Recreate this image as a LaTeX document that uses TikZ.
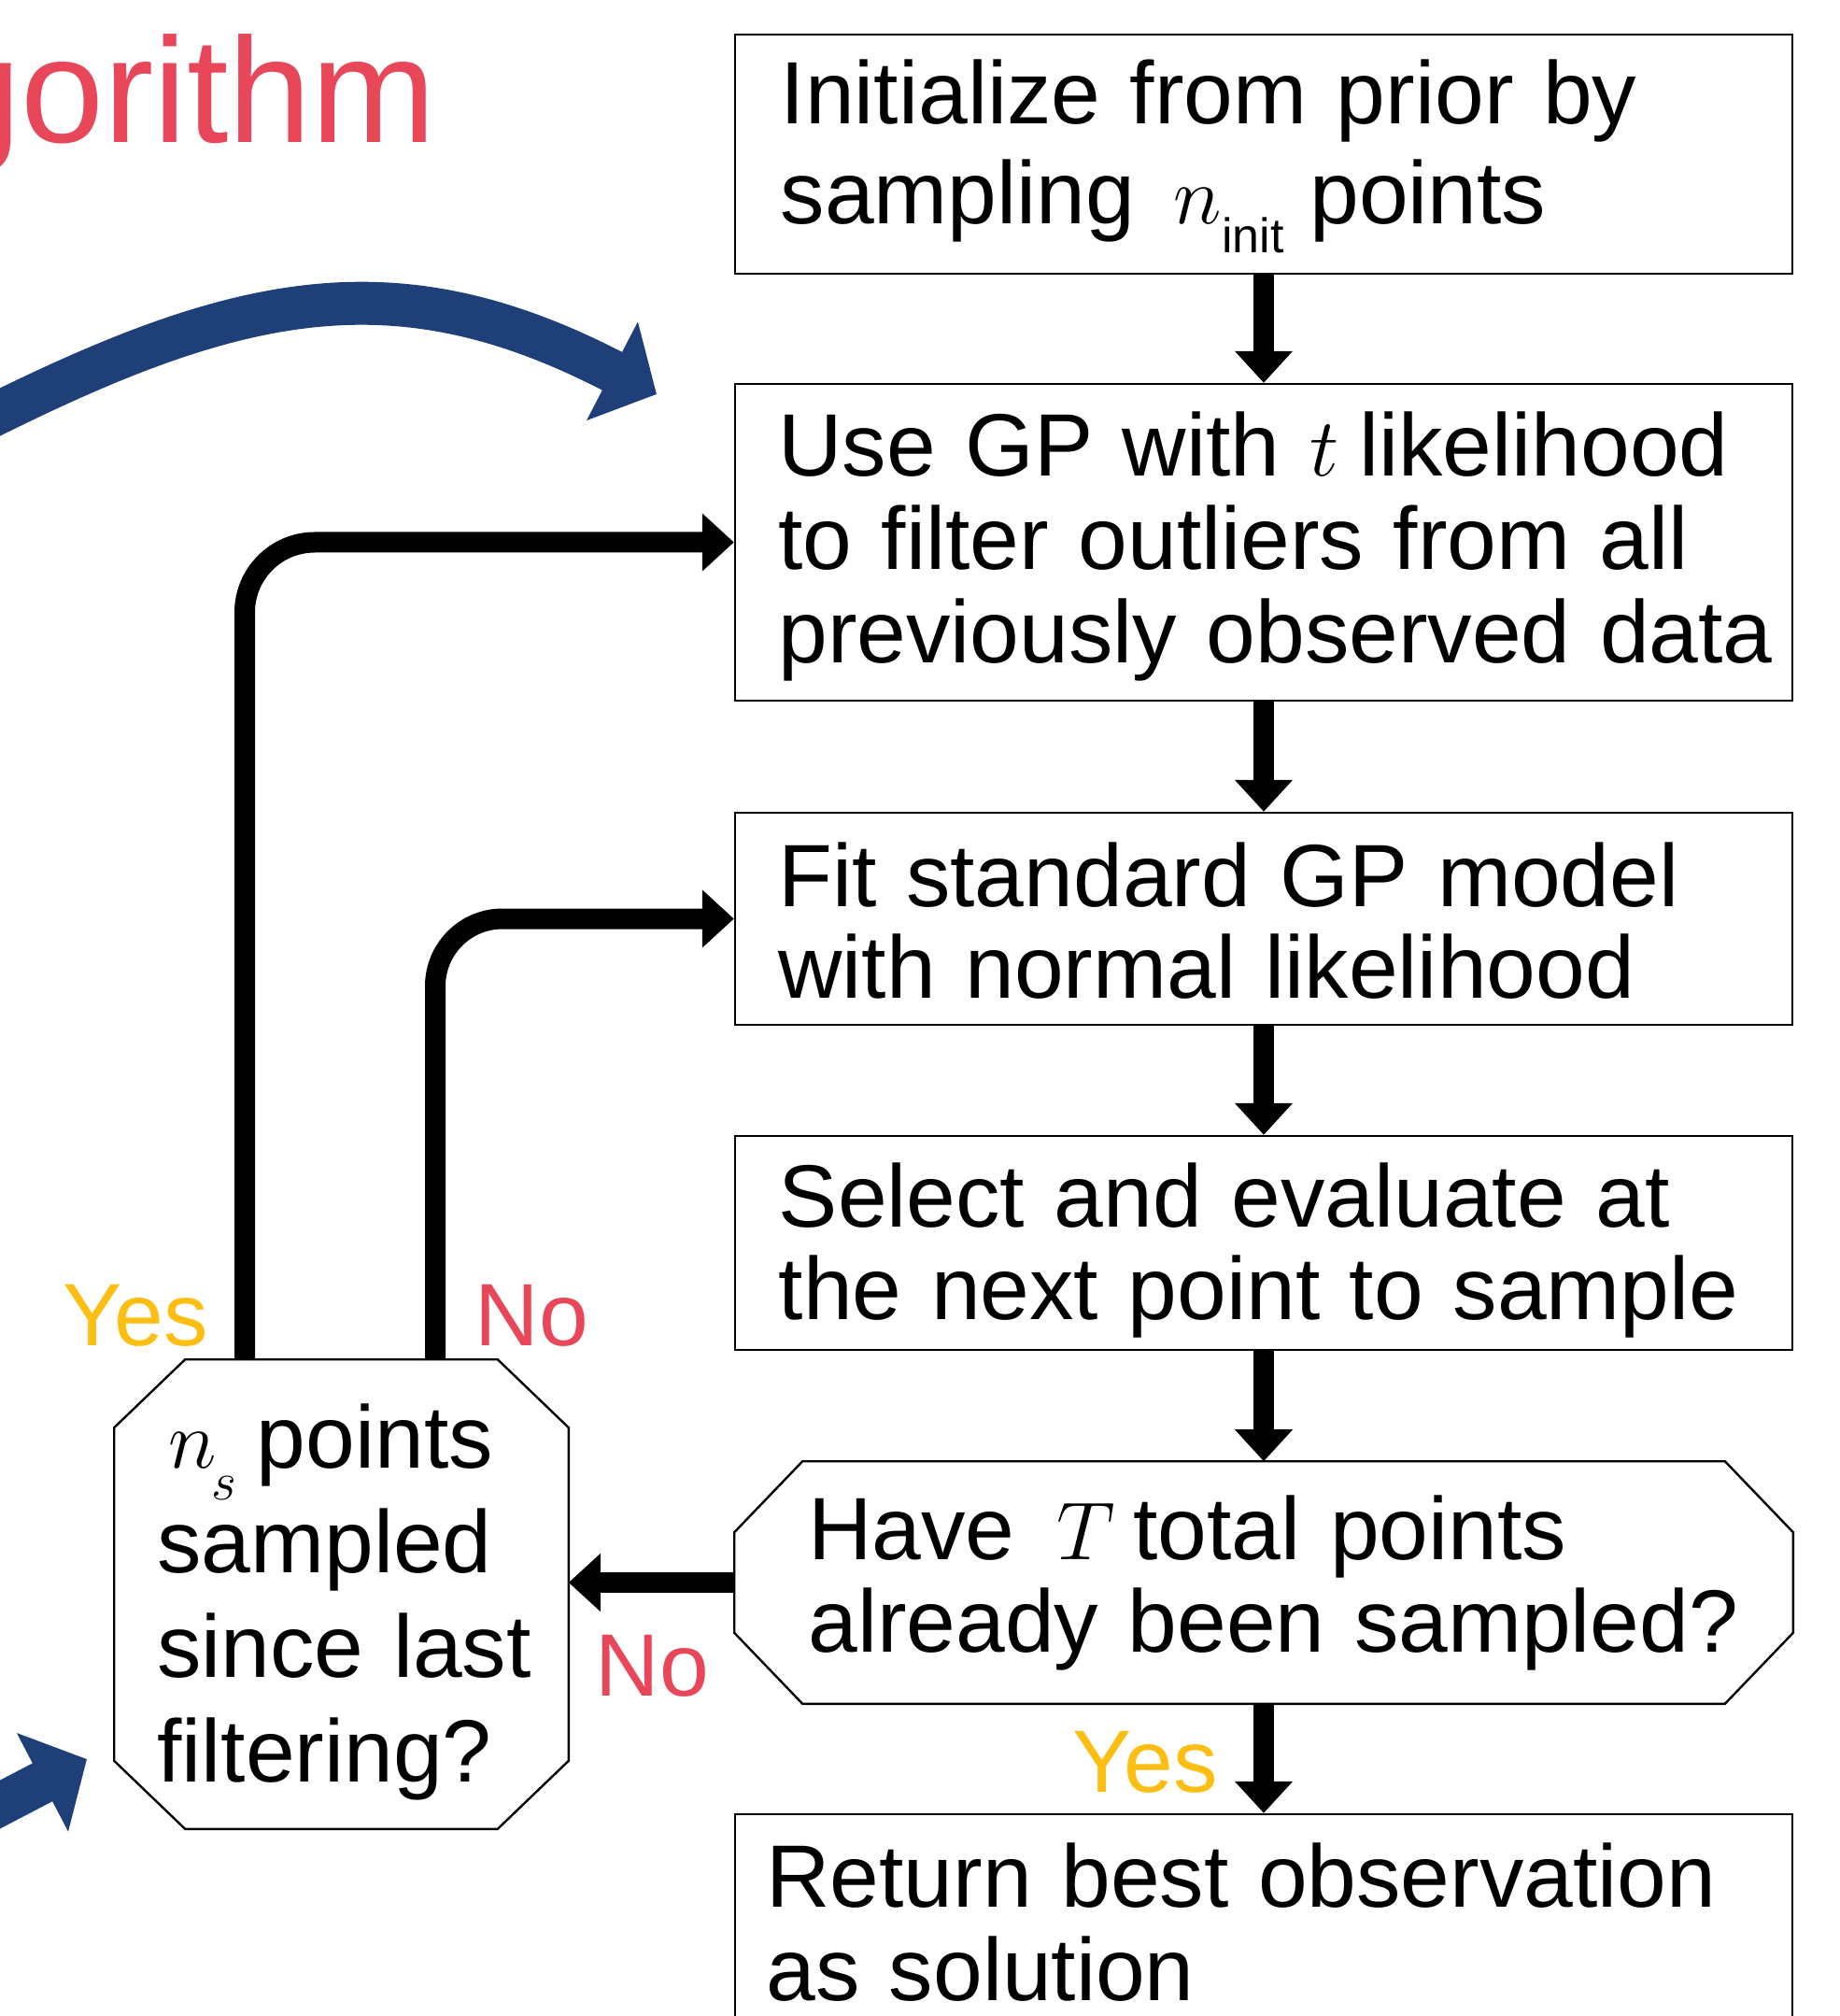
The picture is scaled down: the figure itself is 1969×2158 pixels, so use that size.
\RequirePackage{fix-cm}
\documentclass[tikz,border=0pt]{standalone}
\usepackage{fontspec}
\setmainfont{Liberation Sans}
\usetikzlibrary{arrows.meta,calc}
\definecolor{myred}{RGB}{232,71,90}
\definecolor{myyellow}{RGB}{253,190,19}
\definecolor{myblue}{RGB}{31,63,120}
\newcommand{\mth}[1]{{\fontsize{22pt}{22pt}\selectfont$#1$}}
\begin{document}
\begin{tikzpicture}[x=0.25pt,y=-0.25pt,
  box/.style={draw, line width=0.6pt, inner sep=0pt, minimum width=283pt},
  txt/.style={inner sep=0pt, anchor=base west, align=left, text width=280pt},
  arr/.style={line width=5.5pt, -{Triangle[length=8.5pt,width=15pt]}},
  barr/.style={draw=myblue, line width=11.5pt, -{Triangle[length=13.4pt,width=29pt]}},
  lbl/.style={inner sep=0pt, anchor=base west, font=\fontsize{23.7pt}{24pt}\selectfont}
]
\useasboundingbox (0,0) rectangle (1969,2158);
\begin{scope}
\clip (0,0) rectangle (1969,2158);

% title
\node[inner sep=0pt, anchor=base east, text=myred, font=\fontsize{40pt}{40pt}\selectfont] (title) at (468,153) {gorithm};

% boxes
\node[box, minimum height=64pt] (b1) at (1353,165) {};
\node[box, minimum height=84.75pt] (b2) at (1353,580.5) {};
\node[box, minimum height=56.75pt] (b3) at (1353,983.5) {};
\node[box, minimum height=57.25pt] (b4) at (1353,1330.5) {};
\node[inner sep=0pt, minimum width=283pt, minimum height=64.5pt] (hex) at (1353,1694) {};
\draw[line width=0.6pt] ($(hex.north west)+(73,0)$) -- ($(hex.north east)+(-73,0)$) -- ($(hex.north east)+(0,76)$) -- ($(hex.south east)+(0,-76)$) -- ($(hex.south east)+(-73,0)$) -- ($(hex.south west)+(73,0)$) -- ($(hex.south west)+(0,-76)$) -- ($(hex.north west)+(0,76)$) -- cycle;
\node[box, minimum height=100pt] (ret) at (1353,2142) {};
\node[inner sep=0pt, minimum width=121.25pt, minimum height=125.25pt] (oct) at (365.5,1706.5) {};
\draw[line width=0.6pt] ($(oct.north west)+(76,0)$) -- ($(oct.north east)+(-76,0)$) -- ($(oct.north east)+(0,73)$) -- ($(oct.south east)+(0,-73)$) -- ($(oct.south east)+(-76,0)$) -- ($(oct.south west)+(76,0)$) -- ($(oct.south west)+(0,-73)$) -- ($(oct.north west)+(0,73)$) -- cycle;

% texts
\node[txt, font=\fontsize{23.7pt}{26.75pt}\selectfont] (t1) at (835,133) {Initialize from prior by\\sampling\hspace{2.5pt} \mth{n}\raisebox{-7.75pt}{\fontsize{13pt}{13pt}\selectfont init}\hspace{-1pt} points};
\node[txt, font=\fontsize{23.7pt}{24.9pt}\selectfont] (t2) at (832.5,510) {Use GP with \mth{t}\hspace{-2.4pt} likelihood\\to filter outliers from all\\previously observed data};
\node[txt, font=\fontsize{23.7pt}{24.5pt}\selectfont] (t3) at (832.5,970) {Fit standard GP model\\with normal likelihood};
\node[txt, font=\fontsize{23.7pt}{24.75pt}\selectfont] (t4) at (833,1313) {Select and evaluate at\\the next point to sample};
\node[txt, font=\fontsize{23.7pt}{24.75pt}\selectfont] (t5) at (864.5,1669) {Have\hspace{3.3pt} \mth{T}\hspace{-3pt} total points\\already been sampled?};
\node[txt, font=\fontsize{23.7pt}{25pt}\selectfont] (t6) at (819.5,2041) {Return best observation\\as solution};
\node[txt, text width=130pt, font=\fontsize{23.7pt}{28pt}\selectfont] (t7) at (167.5,1571) {\hspace{3pt}\mth{n}\hspace{-1.4pt}\raisebox{-8.5pt}{\fontsize{14.5pt}{14.5pt}\selectfont$s$}\hspace{-2.4pt} points\\sampled\\since last\\filtering?};

% labels
\node[lbl, text=myyellow] (yes1) at (67,1440) {Yes};
\node[lbl, text=myred] (no1) at (508,1440) {No};
\node[lbl, text=myred] (no2) at (637,1815) {No};
\node[lbl, text=myyellow] (yes2) at (1148,1918) {Yes};

% connectors
\draw[arr] (b1) -- (b2);
\draw[arr] (b2) -- (b3);
\draw[arr] (b3) -- (b4);
\draw[arr] (b4) -- (hex);
\draw[arr] (hex) -- (ret);
\draw[arr] (hex.west) -- (oct.east |- hex.west);
\coordinate (yx) at (262,0);
\coordinate (nx) at (466,0);
\draw[arr, rounded corners=18.75pt] (oct.north -| yx) |- (b2.west);
\draw[arr, rounded corners=18pt] (oct.north -| nx) |- (b3.west);

% blue arrows
\coordinate (bs1) at (-20,451);
\coordinate (be1) at (703,422);
\draw[barr] (bs1) .. controls (255,313) and (424,277) .. (be1);
\coordinate (bs2) at (-20,1942);
\coordinate (be2) at (93,1883);
\draw[barr] (bs2) -- (be2);
\end{scope}
\end{tikzpicture}
\end{document}
